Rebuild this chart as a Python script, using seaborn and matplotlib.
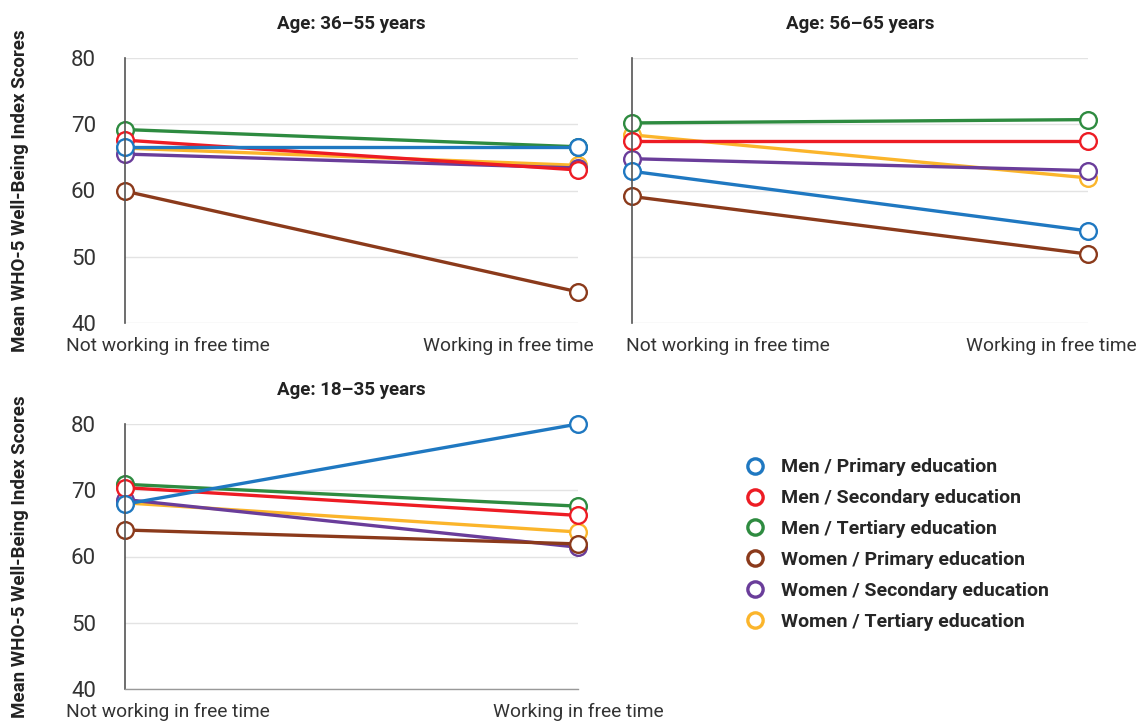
import numpy as np
import pandas as pd
import matplotlib
matplotlib.use('Agg')
import matplotlib.pyplot as plt
import matplotlib.transforms as mtransforms
from matplotlib.lines import Line2D
import seaborn as sns

groups = ['Men / Primary education', 'Men / Secondary education', 'Men / Tertiary education',
          'Women / Primary education', 'Women / Secondary education', 'Women / Tertiary education']
colors = ['#1f78c1', '#ed1c24', '#2e8b40', '#8b3a1b', '#6a3d9a', '#fbb52b']
conditions = ['Not working in free time', 'Working in free time']
titles = ['Age: 36–55 years', 'Age: 56–65 years', 'Age: 18–35 years']

# mean scores per group, same order as groups
not_working_36_55 = [66.5, 67.6, 69.2, 59.9, 65.5, 66.4]
working_36_55 = [66.5, 63.1, 66.6, 44.7, 63.4, 63.8]
not_working_56_65 = [62.9, 67.4, 70.2, 59.1, 64.8, 68.4]
working_56_65 = [53.9, 67.4, 70.7, 50.4, 63.0, 61.9]
not_working_18_35 = [67.9, 70.4, 70.9, 64.0, 68.6, 68.1]
working_18_35 = [80.0, 66.2, 67.6, 61.9, 61.4, 63.7]

yticks = [40, 50, 60, 70, 80]

panels = [(not_working_36_55, working_36_55),
          (not_working_56_65, working_56_65),
          (not_working_18_35, working_18_35)]

rows = []
for p, (nw, w) in enumerate(panels):
    for g, a, b in zip(groups, nw, w):
        rows.append({'panel': p, 'group': g, 'pos': 0, 'score': a})
        rows.append({'panel': p, 'group': g, 'pos': 1, 'score': b})
df = pd.DataFrame(rows)

sns.set_style('white')
plt.rcParams['font.family'] = ['Roboto', 'DejaVu Sans']

W, H = 1138, 724
fig = plt.figure(figsize=(W / 100, H / 100), dpi=100)

# axes boxes in pixels: left, top, right(point x), bottom
boxes = [(125, 58, 578, 323), (632, 58, 1088, 323), (125, 424, 578, 689)]
# x offsets (px) for the two tick labels in each panel
label_shift = [(43, -70), (96, -37), (43, 0)]

palette = dict(zip(groups, colors))

for p, (l, t, r, b) in enumerate(boxes):
    ax = fig.add_axes([l / W, 1 - b / H, (r - l) / W, (b - t) / H])
    sub = df[df['panel'] == p]
    sns.lineplot(data=sub, x='pos', y='score', hue='group', hue_order=groups[::-1],
                 palette=palette, marker='o', markersize=12, linewidth=2.4,
                 legend=False, sort=False, ax=ax)
    for line in ax.lines:
        line.set_markerfacecolor('white')
        line.set_markeredgecolor(line.get_color())
        line.set_markeredgewidth(1.7)
        line.set_clip_on(False)

    ax.set_xlim(0, 1)
    ax.set_ylim(40, 80)
    ax.set_yticks(yticks)
    ax.set_xticks([0, 1])
    ax.set_xticklabels(conditions)
    ax.set_xlabel('')
    if p == 1:
        ax.set_ylabel('')
        ax.tick_params(axis='y', labelleft=False)
    else:
        ax.set_ylabel('Mean WHO-5 Well-Being Index Scores', fontsize=13.5,
                      fontweight='bold', color='#222222')
        ax.yaxis.set_label_coords(-0.212, 0.5)
    ax.grid(axis='y', color='#e3e3e3', linewidth=1)
    ax.grid(axis='x', visible=False)
    for s in ['top', 'right']:
        ax.spines[s].set_visible(False)
    ax.spines['left'].set_color('#555555')
    ax.spines['left'].set_linewidth(1.2)
    if p == 2:
        ax.spines['bottom'].set_color('#999999')
        ax.spines['bottom'].set_linewidth(1.0)
    else:
        ax.spines['bottom'].set_visible(False)
    ax.tick_params(axis='y', direction='out', length=8, width=1.2, color='#555555',
                   labelsize=16, labelcolor='#333333', pad=13)
    ax.tick_params(axis='x', length=0, labelsize=13.8, labelcolor='#333333', pad=10)
    for lab, dx in zip(ax.get_xticklabels(), label_shift[p]):
        lab.set_transform(lab.get_transform() +
                          mtransforms.ScaledTranslation(dx / 100, 0, fig.dpi_scale_trans))
    ax.set_title(titles[p], fontsize=13.5, fontweight='bold', color='#222222', pad=21)

handles = [Line2D([], [], linestyle='none', marker='o', markersize=11,
                  markerfacecolor='white', markeredgecolor=c, markeredgewidth=2.4)
           for c in colors]
fig.legend(handles, groups, loc='upper left', bbox_to_anchor=(726 / W, 1 - 441 / H),
           frameon=False, labelspacing=0.66, handletextpad=0.75,
           handlelength=1.2, prop={'weight': 'semibold', 'size': 14})

fig.savefig('out.png', dpi=100)
